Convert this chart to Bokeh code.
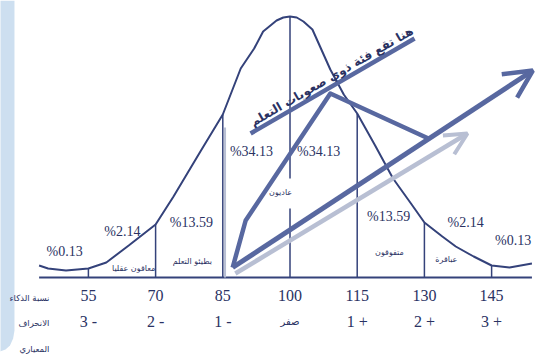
from bokeh.plotting import figure
from bokeh.models import Arrow, OpenHead, ColumnDataSource, Range1d
from bokeh.core.properties import value
from bokeh.embed import file_html
from bokeh.resources import INLINE

# ---- data ----
iq_ticks = [55, 70, 85, 100, 115, 130, 145]
iq_labels = ["55", "70", "85", "100", "115", "130", "145"]
sd_labels = ["3 -", "2 -", "1 -", "صفر", "1 +", "2 +", "3 +"]

curve_iq = [44, 46, 50, 55, 59, 64, 70, 74, 80, 85, 89, 92, 94, 97, 98.5, 100,
            101.5, 103, 105, 109, 112, 115, 119, 123, 127, 130, 134, 137, 141, 145, 149, 154]
curve_h = [12, 9, 7, 9, 15, 32, 53, 81, 126, 163, 209, 229, 246, 257, 260, 261,
           260, 256, 248, 208, 183, 164, 132, 99, 74, 55, 41, 31, 21, 12, 10, 14]

pct_labels = ["%0.13", "%2.14", "%13.59", "%34.13", "%34.13", "%13.59", "%2.14", "%0.13"]
pct_iq = [49.7, 62.6, 78.0, 91.4, 106.4, 122.0, 139.2, 149.8]
pct_y = [26, 46, 55, 126, 126, 61, 55, 37]

group_names = ["معاقون عقليا", "بطيئو التعلم", "عاديون", "متفوقون", "عباقرة"]
group_iq = [65.1, 78.2, 97.9, 122.2, 134.9]
group_y = [9, 16, 85, 25, 18]

row_titles = ["نسبة الذكاء", "الانحراف", "المعياري"]
title_text = "هنا تقع فئة ذوي صعوبات التعلم"

NAVY = "#34427a"
ARROW = "#5868a0"
LIGHT = "#b8bfd3"
TEXT = "#2a3263"

p = figure(width=536, height=364, x_range=Range1d(35.38, 155.02), y_range=Range1d(-87, 277),
           output_backend="svg", toolbar_location=None, min_border=0,
           x_axis_type=None, y_axis_type=None)
p.grid.visible = False
p.outline_line_color = None
p.background_fill_color = "white"
p.border_fill_color = "white"

# left blue page edge
p.patch([35.2, 38.5, 38.5, 38.2, 37.5, 36.5, 35.2], [277, 277, -53, -61, -68, -72, -74],
        fill_color="#cddff0", line_color=None)

# baseline
p.line([44, 154], [0, 0], line_color=NAVY, line_width=2)

# curve
p.line(curve_iq, curve_h, line_color=NAVY, line_width=2)

# vertical dividers up to curve
def h_at(x):
    for i in range(len(curve_iq) - 1):
        if curve_iq[i] <= x <= curve_iq[i + 1]:
            t = (x - curve_iq[i]) / (curve_iq[i + 1] - curve_iq[i])
            return curve_h[i] + t * (curve_h[i + 1] - curve_h[i])
    return 0

xs, ys = [], []
for t in iq_ticks:
    if t == 100:
        xs += [[t, t], [t, t]]
        ys += [[h_at(t), 99], [69, 0]]
    else:
        xs.append([t, t])
        ys.append([0, h_at(t)])
p.multi_line(xs, ys, line_color=NAVY, line_width=1.5)
p.line([85.5, 85.5], [0, 150], line_color=LIGHT, line_width=2)

# arrows and marker lines
p.line([87.2, 90.1, 109.0, 130.9], [10, 57, 184, 139], line_color=ARROW, line_width=4.5,
       line_join="round")
p.add_layout(Arrow(end=OpenHead(size=22, line_color=LIGHT, line_width=4),
                   x_start=87.8, y_start=4, x_end=139.6, y_end=144,
                   line_color=LIGHT, line_width=4.5))
p.add_layout(Arrow(end=OpenHead(size=28, line_color=ARROW, line_width=4.5),
                   x_start=87.2, y_start=10, x_end=154.2, y_end=207,
                   line_color=ARROW, line_width=5))
p.line([91.2, 127.8], [144, 239], line_color=ARROW, line_width=4.5)

# texts
p.text(x=[109.3], y=[201], text=[title_text], angle=0.525, text_align="center",
       text_baseline="middle", text_font=value("DejaVu Sans"), text_font_size="12px",
       text_font_style="bold", text_color=TEXT)

p.text(x=pct_iq, y=pct_y, text=pct_labels, text_align="center", text_baseline="middle",
       text_font=value("Liberation Serif"), text_font_size="14px", text_color=TEXT)

p.text(x=group_iq, y=group_y, text=group_names, text_align="center", text_baseline="middle",
       text_font=value("DejaVu Sans"), text_font_size="8px", text_color=TEXT)

p.text(x=iq_ticks, y=[-18] * 7, text=iq_labels, text_align="center", text_baseline="middle",
       text_font=value("Liberation Serif"), text_font_size="16px", text_color=TEXT)

sd_src = ColumnDataSource(dict(
    x=iq_ticks, y=[-44] * 7, text=sd_labels,
    font=["Liberation Serif" if s != "صفر" else "DejaVu Sans" for s in sd_labels],
    size=["16px" if s != "صفر" else "10px" for s in sd_labels]))
p.text(x="x", y="y", text="text", source=sd_src, text_align="center", text_baseline="middle",
       text_font="font", text_font_size="size", text_color=TEXT)

p.text(x=[46.3] * 3, y=[-20, -45, -71], text=row_titles, text_align="right",
       text_baseline="middle", text_font=value("DejaVu Sans"), text_font_size="8.5px",
       text_color=TEXT)

open("out.html", "w").write(file_html(p, INLINE))
